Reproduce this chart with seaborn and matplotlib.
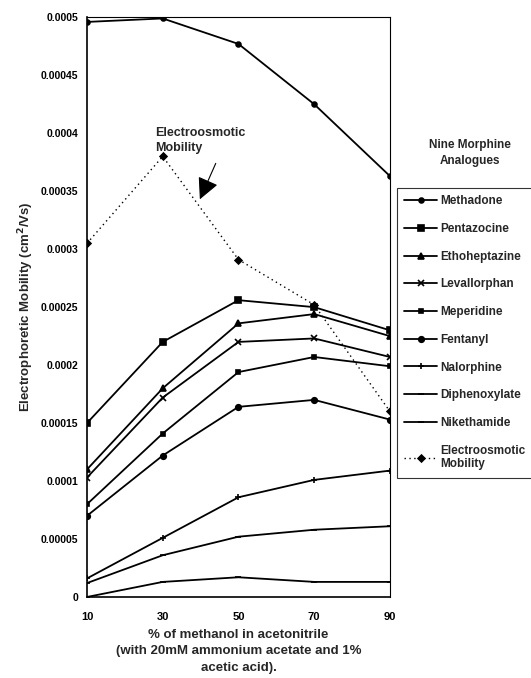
import matplotlib
matplotlib.use("Agg")
import matplotlib.pyplot as plt
import seaborn as sns
import pandas as pd

sns.set_theme(style="white")
plt.rcParams["font.family"] = ["Liberation Sans", "DejaVu Sans"]
plt.rcParams["font.weight"] = "bold"

methanol_pct = [10, 30, 50, 70, 90]

methadone = [0.000496, 0.000499, 0.000477, 0.000425, 0.000363]
pentazocine = [0.000150, 0.000220, 0.000256, 0.000250, 0.000230]
ethoheptazine = [0.000110, 0.000180, 0.000236, 0.000244, 0.000225]
levallorphan = [0.000103, 0.000172, 0.000220, 0.000223, 0.000207]
meperidine = [0.000080, 0.000141, 0.000194, 0.000207, 0.000199]
fentanyl = [0.000070, 0.000122, 0.000164, 0.000170, 0.000153]
nalorphine = [0.000016, 0.000051, 0.000086, 0.000101, 0.000109]
diphenoxylate = [0.000012, 0.000036, 0.000052, 0.000058, 0.000061]
nikethamide = [0.000000, 0.000013, 0.000017, 0.000013, 0.000013]
electroosmotic = [0.000305, 0.000380, 0.000291, 0.000252, 0.000160]

series_names = ["Methadone", "Pentazocine", "Ethoheptazine", "Levallorphan",
                "Meperidine", "Fentanyl", "Nalorphine", "Diphenoxylate",
                "Nikethamide", "Electroosmotic\nMobility"]
series_values = [methadone, pentazocine, ethoheptazine, levallorphan,
                 meperidine, fentanyl, nalorphine, diphenoxylate,
                 nikethamide, electroosmotic]

rows = []
for name, vals in zip(series_names, series_values):
    for x, v in zip(methanol_pct, vals):
        rows.append({"pct": x, "mobility": v, "compound": name})
df = pd.DataFrame(rows)

markers = {
    "Methadone": "o", "Pentazocine": "s", "Ethoheptazine": "^",
    "Levallorphan": "x", "Meperidine": "s", "Fentanyl": "o",
    "Nalorphine": "+", "Diphenoxylate": "_", "Nikethamide": "_",
    "Electroosmotic\nMobility": "D",
}
marker_sizes = {
    "Methadone": 3.5, "Pentazocine": 4, "Ethoheptazine": 4.5,
    "Levallorphan": 4, "Meperidine": 3.5, "Fentanyl": 4,
    "Nalorphine": 5, "Diphenoxylate": 5, "Nikethamide": 5,
    "Electroosmotic\nMobility": 3.5,
}

fig = plt.figure(figsize=(5.31, 6.78), dpi=100)
ax = fig.add_axes([0.1638, 0.1195, 0.5706, 0.855])

for name in series_names:
    sub = df[df["compound"] == name]
    dotted = name.startswith("Electroosmotic")
    sns.lineplot(data=sub, x="pct", y="mobility", ax=ax, color="black",
                 marker=markers[name], markersize=marker_sizes[name],
                 markeredgecolor="black", markerfacecolor="black",
                 markeredgewidth=1.2,
                 linewidth=1.0 if dotted else 1.3,
                 linestyle=(0, (1, 2.5)) if dotted else "-",
                 label=name)

ax.set_xlim(10, 90)
ax.set_ylim(0, 0.0005)
ax.set_xticks(methanol_pct)
ax.set_xticklabels([str(v) for v in methanol_pct])
yticks = [0, 0.00005, 0.0001, 0.00015, 0.0002, 0.00025, 0.0003,
          0.00035, 0.0004, 0.00045, 0.0005]
ytick_labels = ["0", "0.00005", "0.0001", "0.00015", "0.0002", "0.00025",
                "0.0003", "0.00035", "0.0004", "0.00045", "0.0005"]
ax.set_yticks(yticks)
ax.set_yticklabels(ytick_labels)
ax.tick_params(axis="both", direction="inout", length=5, width=0.8,
               labelsize=7.5, colors="black", pad=4)
ax.tick_params(axis="x", labelsize=8, pad=8)
for lab in ax.get_xticklabels() + ax.get_yticklabels():
    lab.set_fontweight("bold")
for side in ["left", "bottom", "top", "right"]:
    ax.spines[side].set_color("black")
    ax.spines[side].set_linewidth(1.2)
ax.spines["top"].set_linewidth(0.8)
ax.spines["right"].set_linewidth(0.8)

ax.set_ylabel("Electrophoretic Mobility (cm$^\\mathbf{2}$/Vs)", fontsize=9.5,
              fontweight="bold", labelpad=3)
ax.set_xlabel("% of methanol in acetonitrile\n(with 20mM ammonium acetate and 1%\nacetic acid).",
              fontsize=9.5, fontweight="bold", labelpad=5, linespacing=1.5)

# label for the dotted series, with a filled arrow pointing at it
ax.text(28.0, 0.000382, "Electroosmotic\nMobility", fontsize=9,
        fontweight="bold", ha="left", va="bottom", linespacing=1.3)
ax.annotate("", xy=(39.8, 0.000343), xytext=(44.0, 0.000374),
            arrowprops=dict(arrowstyle="-|>,head_length=1.1,head_width=0.55",
                            color="black", lw=0.8, shrinkA=0, shrinkB=0))

fig.text(0.885, 0.774, "Nine Morphine\nAnalogues", ha="center", va="center",
         fontsize=8.5, fontweight="bold", linespacing=1.45)

handles, labels = ax.get_legend_handles_labels()
leg = ax.legend(handles, labels, loc="upper left",
                bbox_to_anchor=(1.023, 0.705), frameon=True, fancybox=False,
                edgecolor="black", fontsize=8.5, labelspacing=1.33,
                handlelength=2.8, handletextpad=0.3, borderpad=0.6,
                borderaxespad=0)
leg.get_frame().set_linewidth(0.8)
for t in leg.get_texts():
    t.set_fontweight("bold")

fig.savefig("out.png", dpi=100, facecolor="white")
